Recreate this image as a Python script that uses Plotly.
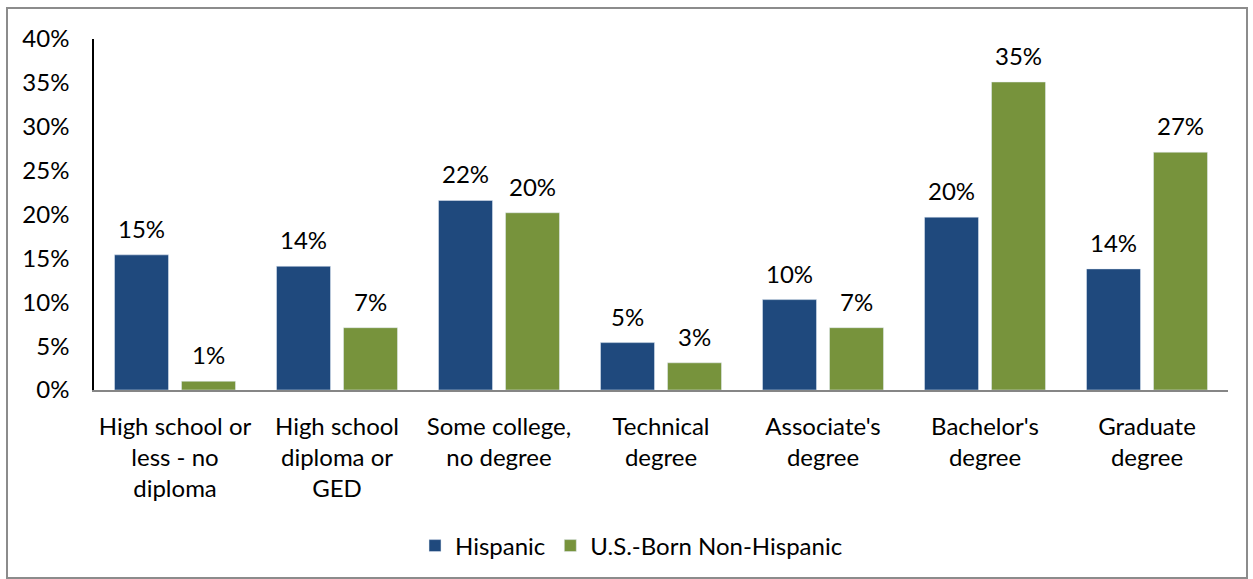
import plotly.graph_objects as go

categories = ["High school or<br>less - no<br>diploma", "High school<br>diploma or<br>GED",
              "Some college,<br>no degree", "Technical<br>degree", "Associate's<br>degree",
              "Bachelor's<br>degree", "Graduate<br>degree"]
hispanic = [15.4, 14.1, 21.6, 5.4, 10.3, 19.7, 13.8]
us_born = [1.0, 7.1, 20.2, 3.1, 7.1, 35.1, 27.1]
hispanic_labels = ["15%", "14%", "22%", "5%", "10%", "20%", "14%"]
us_born_labels = ["1%", "7%", "20%", "3%", "7%", "35%", "27%"]
y_ticks = [0, 5, 10, 15, 20, 25, 30, 35, 40]
y_tick_text = ["0%", "5%", "10%", "15%", "20%", "25%", "30%", "35%", "40%"]

FONT = "Lato"
FS = 24
BLUE = "#1F497D"
GREEN = "#77933C"

fig = go.Figure()
fig.add_trace(go.Bar(x=categories, y=hispanic, name="Hispanic", marker_color=BLUE))
fig.add_trace(go.Bar(x=categories, y=us_born, name="U.S.-Born Non-Hispanic", marker_color=GREEN))

annotations = []
for c, v, t in zip(categories, hispanic, hispanic_labels):
    annotations.append(dict(x=c, y=v, text=t, xshift=-33.5, yshift=10, yanchor="bottom",
                            showarrow=False, font=dict(family=FONT, size=FS, color="black")))
for c, v, t in zip(categories, us_born, us_born_labels):
    annotations.append(dict(x=c, y=v, text=t, xshift=33.5, yshift=10, yanchor="bottom",
                            showarrow=False, font=dict(family=FONT, size=FS, color="black")))

fig.update_layout(
    width=1253, height=579,
    margin=dict(l=94, r=25, t=39, b=189),
    plot_bgcolor="white", paper_bgcolor="white",
    barmode="group", bargap=0.173, bargroupgap=0.194,
    font=dict(family=FONT, size=FS, color="black"),
    annotations=annotations,
    legend=dict(orientation="h", xref="container", x=0.504, xanchor="center",
                yref="container", y=0.057, yanchor="middle",
                font=dict(family=FONT, size=FS, color="black"), itemwidth=30),
    shapes=[dict(type="rect", xref="paper", yref="paper",
                 x0=(7 - 94) / 1134, x1=(1247 - 94) / 1134,
                 y0=(390 - 578) / 351, y1=(390 - 8) / 351,
                 line=dict(color="#8c8c8c", width=2), fillcolor="rgba(0,0,0,0)", layer="below")],
)
fig.update_yaxes(range=[0, 40], tickvals=y_ticks, ticktext=y_tick_text, showgrid=False,
                 showline=True, linecolor="black", linewidth=1.5, ticks="",
                 ticklabelstandoff=18, zeroline=False,
                 tickfont=dict(family=FONT, size=FS, color="black"))
fig.update_xaxes(showline=True, linecolor="#868686", linewidth=1.5, ticks="",
                 ticklabelstandoff=14, tickangle=0,
                 tickfont=dict(family=FONT, size=FS, color="black"))

fig.write_html("out.html")
